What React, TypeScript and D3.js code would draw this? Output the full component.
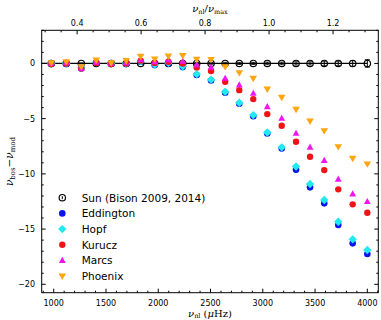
import * as d3 from 'd3'

// mode frequencies (muHz)
const freq = [977, 1120, 1264, 1407, 1550, 1694, 1832, 1966, 2097, 2234, 2368, 2505, 2640, 2775, 2909, 3043, 3181, 3318, 3452, 3588, 3722, 3860, 4000]

// nu_bos - nu_mod for each model
const sunVals = [0, 0, 0, 0, 0, 0, 0, 0, 0, 0, 0, 0, 0, 0, 0, 0, 0, 0, 0, 0, 0, 0, 0]
const sunErr = [0.05, 0.05, 0.05, 0.05, 0.05, 0.05, 0.05, 0.05, 0.05, 0.05, 0.08, 0.08, 0.1, 0.1, 0.1, 0.12, 0.12, 0.15, 0.15, 0.2, 0.2, 0.25, 0.35]
const eddington = [-0.05, -0.05, -0.45, 0.05, -0.05, -0.05, 0.15, -0.15, 0.0, -0.33, -1.05, -1.55, -2.65, -3.65, -4.78, -6.35, -7.7, -9.62, -11.22, -12.67, -14.63, -16.29, -17.26]
const hopf = [0.0, 0.0, -0.4, 0.1, 0.0, 0.0, 0.2, -0.1, 0.05, -0.26, -0.97, -1.47, -2.57, -3.56, -4.68, -6.25, -7.6, -9.33, -10.92, -12.37, -14.33, -15.93, -16.9]
const kurucz = [-0.05, 0.0, -0.45, 0.05, -0.05, 0.0, 0.25, 0.05, 0.15, 0.0, -0.36, -0.68, -1.66, -2.42, -3.23, -4.59, -5.64, -7.09, -8.45, -9.66, -11.4, -12.76, -13.52]
const marcs = [0.0, 0.05, -0.45, 0.1, 0.0, 0.05, 0.33, 0.15, 0.3, 0.18, -0.13, -0.36, -1.36, -1.96, -2.72, -3.93, -4.98, -6.34, -7.6, -8.8, -10.5, -11.83, -12.52]
const phoenix = [0.05, 0.15, -0.3, 0.3, 0.05, 0.25, 0.63, 0.4, 0.66, 0.7, 0.38, 0.35, -0.3, -0.85, -1.36, -2.33, -3.08, -4.16, -5.22, -6.1, -7.55, -8.6, -9.11]

const legendLabels = ['Sun (Bison 2009, 2014)', 'Eddington', 'Hopf', 'Kurucz', 'Marcs', 'Phoenix']

const xMajor = [1000, 1500, 2000, 2500, 3000, 3500, 4000]
const yMajor = [0, -5, -10, -15, -20]
const topMajor = [0.4, 0.6, 0.8, 1.0, 1.2]
const nuMax = 3060

const W = 381
const H = 320
const L = 41.7, R = 378.3, T = 30.3, B = 292.7
const tickFont = 'DejaVu Sans, sans-serif'
const mathFont = 'DejaVu Serif, serif'

function Marker({ kind, x, y }: { kind: string; x: number; y: number }) {
  if (kind === 'eddington') return <circle cx={x} cy={y} r={3.3} fill="#0a14f0" />
  if (kind === 'kurucz') return <circle cx={x} cy={y} r={3.2} fill="#f01418" />
  if (kind === 'hopf') {
    const s = 4.2
    return <path d={`M${x},${y - s}L${x + s},${y}L${x},${y + s}L${x - s},${y}Z`} fill="#22e8f0" />
  }
  if (kind === 'marcs') {
    return <path d={`M${x},${y - 3.8}L${x + 3.4},${y + 2.4}L${x - 3.4},${y + 2.4}Z`} fill="#f014f0" />
  }
  if (kind === 'phoenix') {
    return <path d={`M${x - 3.8},${y - 2.6}L${x + 3.8},${y - 2.6}L${x},${y + 3.8}Z`} fill="#ffa510" />
  }
  return <circle cx={x} cy={y} r={3.2} fill="none" stroke="#000" strokeWidth={1.2} />
}

export default function App() {
  const x = d3.scaleLinear().domain([885, 4105]).range([L, R])
  const y = d3.scaleLinear().domain([3, -20.76]).range([T, B])

  const xMinor = d3.range(900, 4101, 100).filter(v => !xMajor.includes(v))
  const yMinor = d3.range(-20, 4, 1).filter(v => !yMajor.includes(v) && y(v) >= T)
  const topMinor = d3.range(0.3, 1.36, 0.05)
    .map(v => Math.round(v * 100) / 100)
    .filter(v => !topMajor.some(m => Math.abs(m - v) < 1e-6) && x(v * nuMax) >= L && x(v * nuMax) <= R)

  const series = [
    { kind: 'eddington', vals: eddington },
    { kind: 'hopf', vals: hopf },
    { kind: 'kurucz', vals: kurucz },
    { kind: 'marcs', vals: marcs },
    { kind: 'phoenix', vals: phoenix }
  ]
  const legendKinds = ['sun', 'eddington', 'hopf', 'kurucz', 'marcs', 'phoenix']

  const zeroLine = d3.line<number>().x(d => x(d)).y(() => y(0))

  return (
    <svg width={W} height={H} style={{ position: 'absolute', left: 0, top: 0, background: '#fff' }}>
      {/* zero line of the Sun */}
      <path d={zeroLine([885, freq[freq.length - 1]]) || ''} stroke="#000" strokeWidth={1.3} fill="none" />

      {/* Sun points with error bars */}
      {freq.map((f, i) => (
        <g key={'s' + i}>
          <line x1={x(f)} x2={x(f)} y1={y(sunVals[i] + sunErr[i])} y2={y(sunVals[i] - sunErr[i])} stroke="#000" strokeWidth={1} />
          <line x1={x(f) - 2.5} x2={x(f) + 2.5} y1={y(sunVals[i] + sunErr[i])} y2={y(sunVals[i] + sunErr[i])} stroke="#000" strokeWidth={0.8} />
          <line x1={x(f) - 2.5} x2={x(f) + 2.5} y1={y(sunVals[i] - sunErr[i])} y2={y(sunVals[i] - sunErr[i])} stroke="#000" strokeWidth={0.8} />
          <Marker kind="sun" x={x(f)} y={y(sunVals[i])} />
        </g>
      ))}

      {/* model points */}
      {series.map(s => (
        <g key={s.kind}>
          {s.vals.map((v, i) => <Marker key={i} kind={s.kind} x={x(freq[i])} y={y(v)} />)}
        </g>
      ))}

      {/* frame */}
      <rect x={L} y={T} width={R - L} height={B - T} fill="none" stroke="#000" strokeWidth={1} />

      {/* bottom + top ticks (frequency) */}
      {xMajor.map(v => (
        <g key={'xm' + v}>
          <line x1={x(v)} x2={x(v)} y1={B} y2={B - 4} stroke="#000" />
          <text x={x(v)} y={306} textAnchor="middle" fontFamily={tickFont} fontSize={8}>{v}</text>
        </g>
      ))}
      {xMinor.map(v => <line key={'xn' + v} x1={x(v)} x2={x(v)} y1={B} y2={B - 2} stroke="#000" />)}

      {topMajor.map(v => (
        <g key={'tm' + v}>
          <line x1={x(v * nuMax)} x2={x(v * nuMax)} y1={T} y2={T + 4} stroke="#000" />
          <text x={x(v * nuMax)} y={25.5} textAnchor="middle" fontFamily={tickFont} fontSize={8}>{v.toFixed(1)}</text>
        </g>
      ))}
      {topMinor.map(v => <line key={'tn' + v} x1={x(v * nuMax)} x2={x(v * nuMax)} y1={T} y2={T + 2} stroke="#000" />)}

      {/* left + right ticks */}
      {yMajor.map(v => (
        <g key={'ym' + v}>
          <line x1={L} x2={L + 4} y1={y(v)} y2={y(v)} stroke="#000" />
          <line x1={R} x2={R - 4} y1={y(v)} y2={y(v)} stroke="#000" />
          <text x={35} y={y(v) + 3} textAnchor="end" fontFamily={tickFont} fontSize={8}>{v < 0 ? '\u2212' + Math.abs(v) : v}</text>
        </g>
      ))}
      {yMinor.map(v => (
        <g key={'yn' + v}>
          <line x1={L} x2={L + 2} y1={y(v)} y2={y(v)} stroke="#000" />
          <line x1={R} x2={R - 2} y1={y(v)} y2={y(v)} stroke="#000" />
        </g>
      ))}

      {/* axis labels */}
      <text x={210} y={12} textAnchor="middle" fontFamily={mathFont} fontSize={10}>
        <tspan fontStyle="italic">ν</tspan><tspan fontSize={6.5} dy={1.5}>nl</tspan>
        <tspan dy={-1.5}>/</tspan><tspan fontStyle="italic">ν</tspan><tspan fontSize={6.5} dy={1.5}>max</tspan>
      </text>
      <text x={210} y={316.5} textAnchor="middle" fontFamily={mathFont} fontSize={10}>
        <tspan fontStyle="italic">ν</tspan><tspan fontSize={6.5} dy={1.5}>nl</tspan>
        <tspan dy={-1.5}> (</tspan><tspan fontStyle="italic">μ</tspan><tspan>Hz)</tspan>
      </text>
      <text transform={`translate(13,${(T + B) / 2}) rotate(-90)`} textAnchor="middle" fontFamily={mathFont} fontSize={10.5}>
        <tspan fontStyle="italic">ν</tspan><tspan fontSize={7} dy={2}>bos</tspan>
        <tspan dy={-2}>−</tspan><tspan fontStyle="italic">ν</tspan><tspan fontSize={7} dy={2}>mod</tspan>
      </text>

      {/* legend */}
      {legendLabels.map((lab, i) => {
        const ly = 197.7 + i * 15.7
        return (
          <g key={lab}>
            {legendKinds[i] === 'sun' && <line x1={62.3} x2={62.3} y1={ly - 1.5} y2={ly + 1.5} stroke="#000" strokeWidth={1} />}
            <Marker kind={legendKinds[i]} x={62.3} y={ly} />
            <text x={81.7} y={ly + 3.8} fontFamily={tickFont} fontSize={10.5}>{lab}</text>
          </g>
        )
      })}
    </svg>
  )
}
